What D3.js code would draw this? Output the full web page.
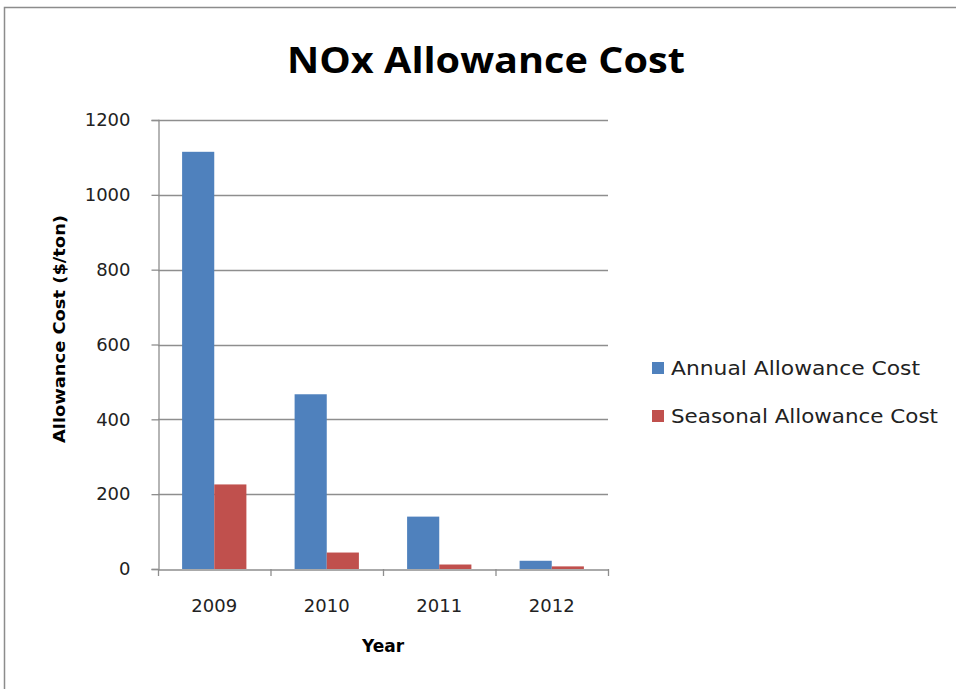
<!DOCTYPE html>
<html>
<head>
<meta charset="utf-8">
<script src="https://cdn.jsdelivr.net/npm/d3@7"></script>
<style>
  body { margin: 0; background: #fff; }
  svg { display: block; }
</style>
</head>
<body>
<svg id="chart" width="956" height="689"></svg>
<script>
// data
const years = ["2009", "2010", "2011", "2012"];
const annualCost = [1115, 467, 140, 22];
const seasonalCost = [226, 44, 12, 7];
const seriesNames = ["Annual Allowance Cost", "Seasonal Allowance Cost"];
const seriesColors = ["#4F81BD", "#C0504D"];
const yTicks = [0, 200, 400, 600, 800, 1000, 1200];

const svg = d3.select("#chart");

// outer chart frame (cut by the picture on the right/bottom)
svg.append("rect")
    .attr("x", 4.5).attr("y", 7.5)
    .attr("width", 1200).attr("height", 1200)
    .attr("fill", "none")
    .attr("stroke", "#8c8c8c")
    .attr("stroke-width", 1.5);

// plot area
const plot = { left: 158, right: 608, top: 120, bottom: 569 };

const x0 = d3.scaleBand()
    .domain(years)
    .range([plot.left, plot.right])
    .padding(0);

const x1 = d3.scaleBand()
    .domain([0, 1])
    .range([0, x0.bandwidth()])
    .paddingInner(0)
    .paddingOuter(0.75);

const y = d3.scaleLinear()
    .domain([0, 1200])
    .range([plot.bottom, plot.top]);

// gridlines
svg.append("g")
    .selectAll("line")
    .data(yTicks.filter(d => d > 0))
    .join("line")
    .attr("x1", plot.left)
    .attr("x2", plot.right)
    .attr("y1", d => Math.round(y(d)) + 0.5)
    .attr("y2", d => Math.round(y(d)) + 0.5)
    .attr("stroke", "#8e8e8e")
    .attr("stroke-width", 1.3);

// bars
const series = [annualCost, seasonalCost];
series.forEach((vals, s) => {
    svg.append("g")
        .selectAll("rect")
        .data(vals)
        .join("rect")
        .attr("x", (d, i) => x0(years[i]) + x1(s))
        .attr("y", d => y(d))
        .attr("width", x1.bandwidth())
        .attr("height", d => y(0) - y(d))
        .attr("fill", seriesColors[s]);
});

// y axis
const yAxis = svg.append("g")
    .attr("transform", `translate(${plot.left + 0.5},0)`)
    .call(d3.axisLeft(y).tickValues(yTicks).tickSize(7).tickPadding(21).tickFormat(d3.format("d")));
yAxis.select(".domain").attr("stroke", "#8e8e8e").attr("stroke-width", 1.3);
yAxis.selectAll(".tick line").attr("stroke", "#8e8e8e").attr("stroke-width", 1.3);
yAxis.selectAll(".tick text")
    .attr("fill", "#222")
    .style("font-family", "'DejaVu Sans', sans-serif")
    .style("font-size", "18px");

// x axis
const xAxis = svg.append("g")
    .attr("transform", `translate(0,${plot.bottom + 0.5})`)
    .call(d3.axisBottom(x0).tickSize(0).tickPadding(30));
xAxis.select(".domain").attr("stroke", "#8e8e8e").attr("stroke-width", 1.3);
xAxis.selectAll(".tick text")
    .attr("fill", "#222")
    .style("font-family", "'DejaVu Sans', sans-serif")
    .style("font-size", "18px");

// x tick marks at category boundaries
svg.append("g")
    .selectAll("line")
    .data(years.concat(["end"]))
    .join("line")
    .attr("x1", (d, i) => (i < years.length ? x0(d) : plot.right) + 0.5)
    .attr("x2", (d, i) => (i < years.length ? x0(d) : plot.right) + 0.5)
    .attr("y1", plot.bottom)
    .attr("y2", plot.bottom + 7)
    .attr("stroke", "#8e8e8e")
    .attr("stroke-width", 1.3);

// title
svg.append("text")
    .attr("x", 486)
    .attr("y", 73)
    .attr("text-anchor", "middle")
    .style("font-family", "'Open Sans', sans-serif")
    .style("font-weight", "bold")
    .style("font-size", "35px")
    .attr("textLength", 398)
    .attr("lengthAdjust", "spacingAndGlyphs")
    .attr("fill", "#000")
    .text("NOx Allowance Cost");

// axis titles
svg.append("text")
    .attr("x", 383)
    .attr("y", 652)
    .attr("text-anchor", "middle")
    .style("font-family", "'DejaVu Sans', sans-serif")
    .style("font-weight", "bold")
    .style("font-size", "17px")
    .text("Year");

svg.append("text")
    .attr("transform", "translate(65,329) rotate(-90)")
    .attr("text-anchor", "middle")
    .style("font-family", "'DejaVu Sans', sans-serif")
    .style("font-weight", "bold")
    .style("font-size", "16px")
    .attr("textLength", 228)
    .attr("lengthAdjust", "spacingAndGlyphs")
    .text("Allowance Cost ($/ton)");

// legend
const legend = svg.append("g")
    .selectAll("g")
    .data(seriesNames)
    .join("g")
    .attr("transform", (d, i) => `translate(652,${362 + i * 48})`);

legend.append("rect")
    .attr("width", 12)
    .attr("height", 12)
    .attr("fill", (d, i) => seriesColors[i]);

legend.append("text")
    .attr("x", 19)
    .attr("y", 13)
    .style("font-family", "'DejaVu Sans', sans-serif")
    .style("font-size", "20px")
    .attr("fill", "#222")
    .attr("textLength", (d, i) => i === 0 ? 249 : 267)
    .attr("lengthAdjust", "spacingAndGlyphs")
    .text(d => d);
</script>
</body>
</html>
